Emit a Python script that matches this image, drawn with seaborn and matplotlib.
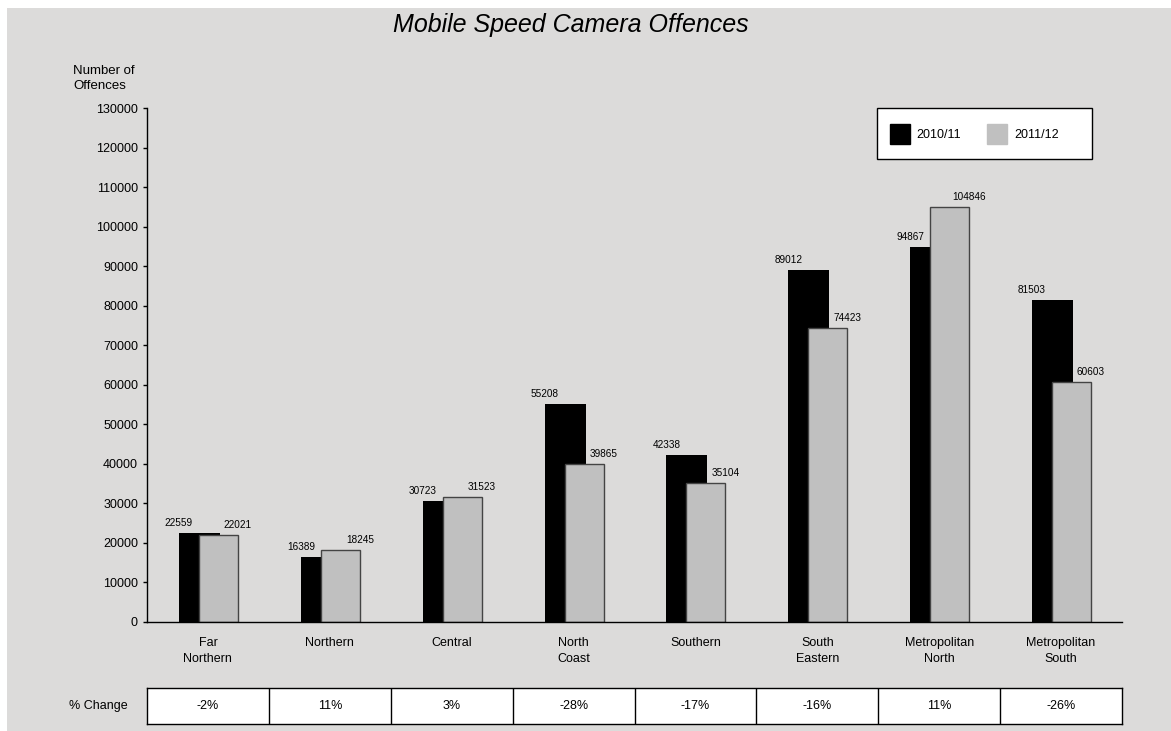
import numpy as np
import pandas as pd
import matplotlib
matplotlib.use('Agg')
import matplotlib.pyplot as plt
from matplotlib.patches import Patch, Rectangle
import seaborn as sns

# data
regions = ['Far\nNorthern', 'Northern', 'Central', 'North\nCoast', 'Southern',
           'South\nEastern', 'Metropolitan\nNorth', 'Metropolitan\nSouth']
offences_2010 = [22559, 16389, 30723, 55208, 42338, 89012, 94867, 81503]
offences_2011 = [22021, 18245, 31523, 39865, 35104, 74423, 104846, 60603]
pct_change = ['-2%', '11%', '3%', '-28%', '-17%', '-16%', '11%', '-26%']
series_names = ['2010/11', '2011/12']
y_ticks = list(range(0, 130001, 10000))

df = pd.DataFrame({'region': regions, 'y1': offences_2010, 'y2': offences_2011})

sns.set_style('white')
plt.rcParams['font.family'] = ['Liberation Sans', 'DejaVu Sans']
plt.rcParams['text.color'] = 'black'
plt.rcParams['xtick.color'] = 'black'
plt.rcParams['ytick.color'] = 'black'
plt.rcParams['axes.labelcolor'] = 'black'

bg = '#dcdbda'
W, H = 1171, 731
fig = plt.figure(figsize=(W / 100, H / 100), dpi=100, facecolor='white')
fig.patches.append(Rectangle((7 / W, 0), 1, 1 - 8 / H, transform=fig.transFigure,
                             facecolor=bg, edgecolor='none', zorder=-10))

ax = fig.add_axes([147 / W, (H - 622) / H, 975 / W, 514 / H])
ax.set_facecolor('none')

sns.barplot(data=df, x='region', y='y1', color='black', width=0.336, saturation=1,
            edgecolor='none', linewidth=0, ax=ax)
n_black = len(ax.patches)
for p in ax.patches:
    p.set_x(p.get_x() - 0.07)
sns.barplot(data=df, x='region', y='y2', color='#c0c0c0', width=0.32, saturation=1,
            edgecolor='#444444', linewidth=1, ax=ax)
for p in ax.patches[n_black:]:
    p.set_x(p.get_x() + 0.086)

# value labels
for i, p in enumerate(ax.patches):
    if i < n_black:
        x = p.get_x()
    else:
        x = p.get_x() + p.get_width()
    ax.annotate(f'{int(p.get_height())}', (x, p.get_height()), xytext=(0, 5),
                textcoords='offset pixels', ha='center', va='bottom', fontsize=7.2, color='black')

ax.set_xlim(-0.5, len(regions) - 0.5)
ax.set_ylim(0, 130000)
ax.set_yticks(y_ticks)
ax.set_yticklabels([str(t) for t in y_ticks])
ax.set_xlabel('')
ax.set_ylabel('')
ax.tick_params(axis='y', left=True, length=3, width=1, pad=3.5, labelsize=9, color='black')
ax.tick_params(axis='x', bottom=False, length=0, pad=11, labelsize=9)
for lbl in ax.get_xticklabels():
    lbl.set_linespacing(1.45)
for s in ['top', 'right']:
    ax.spines[s].set_visible(False)
for s in ['left', 'bottom']:
    ax.spines[s].set_color('black')
    ax.spines[s].set_linewidth(1)

fig.text(571 / W, 1 - 25 / H, 'Mobile Speed Camera Offences', ha='center', va='center',
         fontsize=18, style='italic')
fig.text(73 / W, 1 - 65 / H, 'Number of\nOffences', ha='left', va='top', fontsize=9.5,
         linespacing=1.3)

# legend: white box with the two keys
fig.patches.append(Rectangle((877 / W, 1 - 159 / H), 215 / W, 51 / H, transform=fig.transFigure,
                             facecolor='white', edgecolor='black', linewidth=1, zorder=5))
handles = [Patch(facecolor='black', edgecolor='black'),
           Patch(facecolor='#c0c0c0', edgecolor='#c0c0c0')]
leg = fig.legend(handles, series_names, loc='center left', bbox_to_anchor=(877 / W, 1 - 134 / H),
                 ncol=2, frameon=False, fontsize=9, handlelength=1.6, handleheight=2.2,
                 handletextpad=0.55, columnspacing=2.1, borderpad=1.0, borderaxespad=0)
leg.set_zorder(6)

# % change table
tax = fig.add_axes([147 / W, (H - 724) / H, 975 / W, 36 / H])
tax.set_facecolor('white')
tax.set_xlim(-0.5, len(regions) - 0.5)
tax.set_ylim(0, 1)
tax.set_xticks([])
tax.set_yticks([])
for s in tax.spines.values():
    s.set_color('black')
    s.set_linewidth(1)
tax.vlines(np.arange(len(regions) - 1) + 0.5, 0, 1, color='black', linewidth=1)
for i, v in enumerate(pct_change):
    tax.text(i, 0.5, v, ha='center', va='center', fontsize=9)
tax.annotate('% Change', (-0.5, 0.5), xytext=(-19, 0), textcoords='offset pixels',
             ha='right', va='center', fontsize=9, annotation_clip=False)

fig.savefig('out.png', dpi=100, facecolor=fig.get_facecolor())
